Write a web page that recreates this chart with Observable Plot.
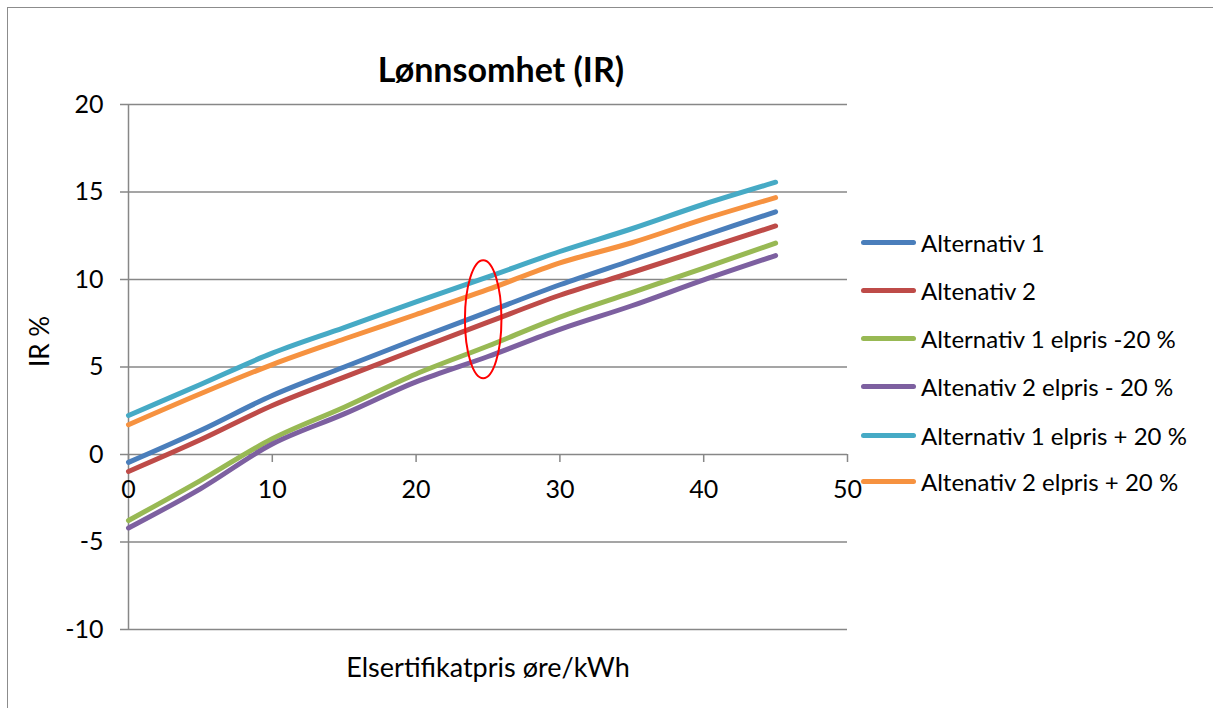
<!DOCTYPE html>
<html>
<head>
<meta charset="utf-8">
<script src="https://cdn.jsdelivr.net/npm/d3@7"></script>
<script src="https://cdn.jsdelivr.net/npm/@observablehq/plot@0.6"></script>
<style>
  html, body { margin: 0; padding: 0; background: #fff; }
  #wrap { position: relative; width: 1213px; height: 708px; overflow: hidden; font-family: Lato, "Open Sans", sans-serif; }
  #frame { position: absolute; left: 7px; top: 7px; width: 1400px; height: 900px; border: 1.5px solid #8c8c8c; box-sizing: border-box; }
  #chart { position: absolute; left: 0; top: 0; }
  .title { position: absolute; left: 501px; top: 68px; transform: translate(-50%, -50%); font-weight: bold; font-size: 34px; color: #000; white-space: nowrap; }
  .legend { position: absolute; left: 861px; top: 0; }
  .legend .row { position: absolute; left: 0; height: 28px; display: flex; align-items: center; white-space: nowrap; font-size: 24px; color: #000; }
  .legend .sw { width: 55px; height: 5px; border-radius: 3px; margin-right: 5px; }
</style>
</head>
<body>
<div id="wrap">
  <div id="frame"></div>
  <div id="chart"></div>
  <div class="title">Lønnsomhet (IR)</div>
  <div class="legend" id="legend"></div>
</div>
<script>
// ---- data ----
const xValues = [0, 5, 10, 15, 20, 25, 30, 35, 40, 45];
const alt1      = [-0.45, 1.37, 3.37, 5.0, 6.6, 8.15, 9.7, 11.1, 12.5, 13.87];
const alt2      = [-0.97, 0.84, 2.8, 4.42, 6.0, 7.56, 9.1, 10.4, 11.73, 13.06];
const alt1Minus = [-3.77, -1.49, 0.9, 2.7, 4.6, 6.2, 7.85, 9.25, 10.65, 12.08];
const alt2Minus = [-4.2, -1.96, 0.6, 2.32, 4.15, 5.6, 7.15, 8.5, 9.98, 11.37];
const alt1Plus  = [2.23, 4.0, 5.79, 7.25, 8.72, 10.15, 11.6, 12.9, 14.3, 15.56];
const alt2Plus  = [1.7, 3.47, 5.14, 6.6, 8.0, 9.43, 10.95, 12.1, 13.45, 14.68];

const seriesNames = [
  "Alternativ 1",
  "Altenativ 2",
  "Alternativ 1 elpris -20 %",
  "Altenativ 2 elpris - 20 %",
  "Alternativ 1 elpris + 20 %",
  "Altenativ 2 elpris + 20 %"
];
const seriesValues = [alt1, alt2, alt1Minus, alt2Minus, alt1Plus, alt2Plus];
const seriesColors = ["#4A7EBB", "#BE4B48", "#98B954", "#7D60A0", "#46AAC5", "#F69240"];

const xTicks = [0, 10, 20, 30, 40, 50];
const yTicks = [-10, -5, 0, 5, 10, 15, 20];

const titleText = "Lønnsomhet (IR)";
const xLabel = "Elsertifikatpris øre/kWh";
const yLabel = "IR %";

// highlight ellipse (annotation) in data units
const ellipseCenterX = 24.7, ellipseCenterY = 7.7, ellipseRadiusX = 1.27, ellipseRadiusY = 3.37;

// ---- build table ----
const rows = [];
seriesNames.forEach((name, s) => {
  xValues.forEach((x, i) => rows.push({ series: name, x, y: seriesValues[s][i] }));
});

const fontFamily = 'Lato, "Open Sans", sans-serif';
const gridColor = "#878787";

const plot = Plot.plot({
  width: 1213,
  height: 708,
  marginLeft: 128,
  marginRight: 366,
  marginTop: 104,
  marginBottom: 79,
  style: { fontFamily, background: "transparent", overflow: "visible" },
  x: { domain: [0, 50], axis: null },
  y: { domain: [-10, 20], axis: null },
  color: { domain: seriesNames, range: seriesColors },
  marks: [
    Plot.ruleY(yTicks, { y: d => d, stroke: gridColor, strokeWidth: 1.5, insetLeft: -8 }),
    Plot.ruleX([0], { x: d => d, y1: -10, y2: 20, stroke: gridColor, strokeWidth: 1.5 }),
    Plot.ruleX(xTicks, { x: d => d, y1: 0, y2: 0, insetBottom: -8, stroke: gridColor, strokeWidth: 1.5 }),
    Plot.text(yTicks, { x: 0, y: d => d, text: d => String(d), dx: -25, textAnchor: "end", fontSize: 25, fill: "#000" }),
    Plot.text(xTicks, { x: d => d, y: 0, text: d => String(d), dy: 35, fontSize: 25, fill: "#000" }),
    Plot.text([xLabel], { frameAnchor: "bottom", text: d => d, dy: 47, fontSize: 27, fill: "#000" }),
    Plot.text([yLabel], { frameAnchor: "left", text: d => d, dx: -88, rotate: -90, fontSize: 26, fill: "#000" }),
    Plot.line(rows, {
      x: "x", y: "y", z: "series", stroke: "series",
      strokeWidth: 5, curve: "catmull-rom", strokeLinecap: "round", strokeLinejoin: "round"
    })
  ]
});

document.getElementById("chart").appendChild(plot);

// annotation ellipse placed with the plot's scales
const sx = plot.scale("x"), sy = plot.scale("y");
const cx = sx.apply(ellipseCenterX), cy = sy.apply(ellipseCenterY);
const rx = sx.apply(ellipseCenterX + ellipseRadiusX) - cx;
const ry = cy - sy.apply(ellipseCenterY + ellipseRadiusY);
d3.select(plot).append("ellipse")
  .attr("cx", cx).attr("cy", cy).attr("rx", rx).attr("ry", ry)
  .attr("fill", "none").attr("stroke", "#FF0000").attr("stroke-width", 2);

// legend
const legendTops = [242.7, 290, 338, 386.7, 435, 481.7];
const legend = document.getElementById("legend");
seriesNames.forEach((name, i) => {
  const row = document.createElement("div");
  row.className = "row";
  row.style.top = (legendTops[i] - 14) + "px";
  const sw = document.createElement("div");
  sw.className = "sw";
  sw.style.background = seriesColors[i];
  const t = document.createElement("span");
  t.textContent = name;
  row.appendChild(sw); row.appendChild(t);
  legend.appendChild(row);
});
</script>
</body>
</html>
